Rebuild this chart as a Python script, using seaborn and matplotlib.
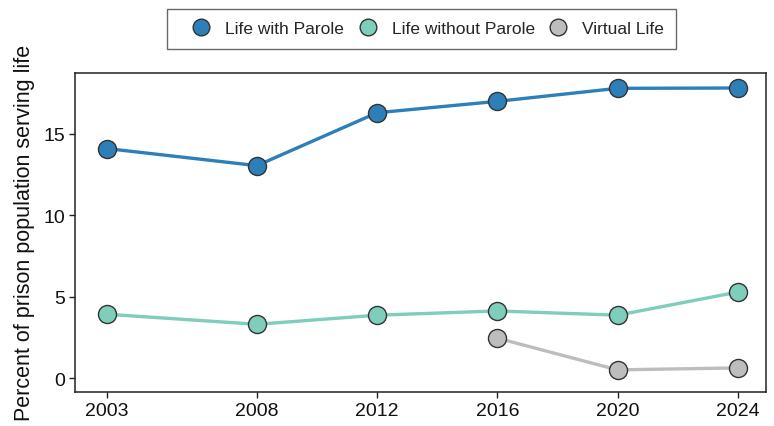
import matplotlib
matplotlib.use("Agg")
import matplotlib.pyplot as plt
import seaborn as sns
import pandas as pd
from matplotlib.lines import Line2D

years = [2003, 2008, 2012, 2016, 2020, 2024]
life_with_parole = [14.1, 13.05, 16.3, 17.0, 17.8, 17.82]
life_without_parole = [3.92, 3.3, 3.86, 4.12, 3.86, 5.28]
virtual_years = [2016, 2020, 2024]
virtual_life = [2.45, 0.5, 0.62]
series_names = ["Life with Parole", "Life without Parole", "Virtual Life"]
colors = ["#2C7FB8", "#7FCDBB", "#BDBDBD"]

rows = []
for y, v in zip(years, life_with_parole):
    rows.append((y, v, series_names[0]))
for y, v in zip(years, life_without_parole):
    rows.append((y, v, series_names[1]))
for y, v in zip(virtual_years, virtual_life):
    rows.append((y, v, series_names[2]))
df = pd.DataFrame(rows, columns=["year", "pct", "type"])

sns.set_theme(style="ticks")
plt.rcParams["font.family"] = ["Liberation Sans", "DejaVu Sans"]

fig = plt.figure(figsize=(7.74, 4.27), dpi=100)
ax = fig.add_axes([0.097, 0.08, 0.893, 0.747])

sns.lineplot(data=df, x="year", y="pct", hue="type", hue_order=series_names,
             palette=colors, marker="o", markersize=13, markeredgecolor="#333333",
             markeredgewidth=1.0, linewidth=2.4, ax=ax, legend=False)

ax.set_xlim(2001.95, 2024.95)
ax.set_ylim(-0.85, 18.75)
ax.set_xticks(years)
ax.set_xticklabels([str(y) for y in years])
ax.set_yticks([0, 5, 10, 15])
ax.tick_params(axis="both", labelsize=14, colors="#222222", length=4, width=1, pad=3)
ax.tick_params(axis="both", labelcolor="#111111")
ax.set_xlabel("")
ax.set_ylabel("Percent of prison population serving life", fontsize=15.5,
              color="#111111", labelpad=6)
for s in ax.spines.values():
    s.set_visible(True)
    s.set_color("#222222")
    s.set_linewidth(1.1)

handles = [Line2D([], [], marker="o", linestyle="", markersize=12,
                  markerfacecolor=c, markeredgecolor="#333333", markeredgewidth=1.0)
           for c in colors]
leg = fig.legend(handles, series_names, loc="center", bbox_to_anchor=(0.545, 0.93),
                 ncol=3, fontsize=12.5, frameon=True, fancybox=False, edgecolor="#444444",
                 handletextpad=0.12, columnspacing=0.12, borderpad=0.7, handlelength=2.5)
leg.get_frame().set_linewidth(1.0)

fig.savefig("out.png", dpi=100)
